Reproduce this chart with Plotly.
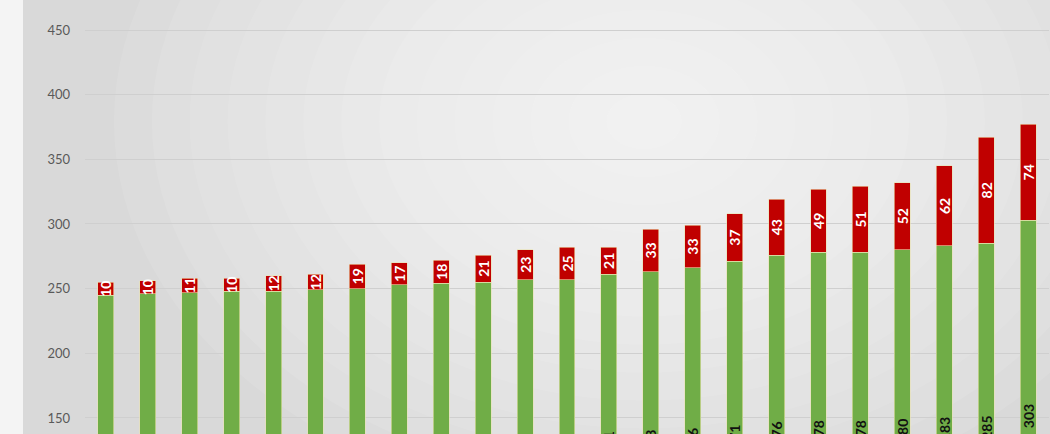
import plotly.graph_objects as go

categories = [f"Item {i}" for i in range(1, 24)]
green_values = [245, 246, 247, 248, 248, 249, 250, 253, 254, 255, 257, 257,
                261, 263, 266, 271, 276, 278, 278, 280, 283, 285, 303]
red_values = [10, 10, 11, 10, 12, 12, 19, 17, 18, 21, 23, 25,
              21, 33, 33, 37, 43, 49, 51, 52, 62, 82, 74]
y_ticks = [150, 200, 250, 300, 350, 400, 450]

GREEN = "#70AD47"
RED = "#C00000"

fig = go.Figure()
fig.add_trace(go.Bar(
    x=categories, y=green_values, name="Green",
    marker=dict(color=GREEN, line=dict(color="#e9e3b0", width=0.6)),
    text=[str(v) for v in green_values], textposition="inside",
    insidetextanchor="middle", textangle=-90,
    textfont=dict(color="#111111", size=14, family="Lato", weight="bold"),
))
fig.add_trace(go.Bar(
    x=categories, y=red_values, name="Red",
    marker=dict(color=RED, line=dict(color="#e9e3b0", width=0.6)),
    text=[str(v) for v in red_values], textposition="inside",
    insidetextanchor="middle", textangle=-90,
    textfont=dict(color="white", size=14, family="Lato", weight="bold"),
))

# soft radial highlight in the background
shapes = []
n = 14
for i in range(n):
    f = 1 - i / n
    shapes.append(dict(
        type="circle", xref="paper", yref="paper", layer="below",
        x0=0.58 - 0.55 * f, x1=0.58 + 0.55 * f,
        y0=0.72 - 0.9 * f, y1=0.72 + 0.9 * f,
        fillcolor="rgba(255,255,255,0.09)", line=dict(width=0),
    ))
fig.update_layout(
    width=1050, height=434,
    barmode="stack", bargap=0.62,
    showlegend=False,
    paper_bgcolor="#d9d9d9", plot_bgcolor="rgba(0,0,0,0)",
    margin=dict(l=85, r=1, t=0, b=0),
    uniformtext=dict(minsize=14, mode="show"),
    font=dict(family="Lato", color="#595959"),
    shapes=shapes + [dict(
        type="rect", xref="paper", yref="paper", layer="below",
        x0=-85 / 964, x1=-62 / 964, y0=0, y1=1,
        fillcolor="#f4f4f4", line=dict(width=0),
    )],
    xaxis=dict(showticklabels=False, showgrid=False, zeroline=False,
               showline=False, ticks=""),
    yaxis=dict(range=[137.6, 473.2], tickvals=y_ticks,
               tickfont=dict(size=13, color="#595959", family="Lato"),
               gridcolor="#cfcfcf", gridwidth=1, zeroline=False,
               showline=False, ticks="", ticklabelstandoff=14),
)

fig.write_html("out.html",
               config={"displayModeBar": False},
               post_script="document.body.style.margin='0';"
                           "document.body.style.overflow='hidden';")
